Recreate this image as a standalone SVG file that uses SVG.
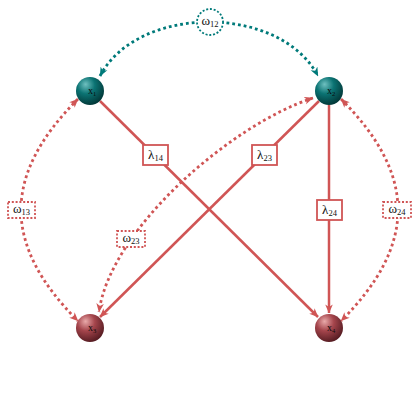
<svg xmlns="http://www.w3.org/2000/svg" width="420" height="420" viewBox="0 0 420 420">
<defs>
<radialGradient id="gTeal" cx="0.38" cy="0.32" r="0.7" fx="0.34" fy="0.26">
<stop offset="0" stop-color="#6fc0c0"/>
<stop offset="0.45" stop-color="#0b7373"/>
<stop offset="1" stop-color="#023838"/>
</radialGradient>
<radialGradient id="gRed" cx="0.38" cy="0.32" r="0.7" fx="0.34" fy="0.26">
<stop offset="0" stop-color="#e9aaaa"/>
<stop offset="0.45" stop-color="#a5454c"/>
<stop offset="1" stop-color="#561c22"/>
</radialGradient>
<marker id="aR" viewBox="0 0 10 10" refX="9.5" refY="5" markerWidth="9" markerHeight="9" markerUnits="userSpaceOnUse" orient="auto-start-reverse">
<path d="M0,0.8 L10,5 L0,9.2 L2.8,5 z" fill="#d05555"/>
</marker>
<marker id="aT" viewBox="0 0 10 10" refX="9.5" refY="5" markerWidth="9" markerHeight="9" markerUnits="userSpaceOnUse" orient="auto-start-reverse">
<path d="M0,0.8 L10,5 L0,9.2 L2.8,5 z" fill="#007a7a"/>
</marker>
</defs>
<style>
.solid{fill:none;stroke:#d05555;stroke-width:2.5}
.dotR{fill:none;stroke:#d05555;stroke-width:2.8;stroke-dasharray:2.8 3}
.dotT{fill:none;stroke:#007a7a;stroke-width:2.8;stroke-dasharray:2.8 3}
.lbox{fill:#fff;stroke:#d05555;stroke-width:1.8}
.wbox{fill:#fff;stroke:#d05555;stroke-width:1.8;stroke-dasharray:2 1.8}
.wcirc{fill:#fff;stroke:#007a7a;stroke-width:1.8;stroke-dasharray:2 1.8}
.lab{font-family:"Liberation Serif","DejaVu Serif",serif;font-size:13px;fill:#111;text-anchor:middle}
.sub{font-size:8.5px}
.nlab{font-family:"Liberation Serif","DejaVu Serif",serif;font-size:10px;fill:#0a0a0a;text-anchor:middle}
.nsub{font-size:6.5px}
</style>
<g id="connectors">
<path class="dotT" d="M100,76 C138,4 280,4 318,76" marker-start="url(#aT)" marker-end="url(#aT)"/>
<path class="dotR" d="M78,99 C2,175 2,245 78,321" marker-start="url(#aR)" marker-end="url(#aR)"/>
<path class="dotR" d="M341,99 C417,175 417,245 341,321" marker-start="url(#aR)" marker-end="url(#aR)"/>
<path class="dotR" d="M313,98 C230,125 110,230 99,312" marker-start="url(#aR)" marker-end="url(#aR)"/>
<path class="solid" d="M100,101 L318,317" marker-end="url(#aR)"/>
<path class="solid" d="M319,101 L100,317" marker-end="url(#aR)"/>
<path class="solid" d="M329,105 L329,313" marker-end="url(#aR)"/>
<g id="label-w12">
<circle class="wcirc" cx="210" cy="22" r="13"/>
<text class="lab" x="210" y="25">ω<tspan class="sub" dy="2">12</tspan></text>
</g>
<g id="label-w13">
<rect class="wbox" x="8" y="202" width="27" height="16"/>
<text class="lab" x="21.5" y="213">ω<tspan class="sub" dy="2">13</tspan></text>
</g>
<g id="label-w23">
<rect class="wbox" x="117" y="231" width="28" height="16"/>
<text class="lab" x="131" y="242">ω<tspan class="sub" dy="2">23</tspan></text>
</g>
<g id="label-w24">
<rect class="wbox" x="383" y="202" width="28" height="16"/>
<text class="lab" x="397" y="213">ω<tspan class="sub" dy="2">24</tspan></text>
</g>
<g id="label-l14">
<rect class="lbox" x="143" y="145" width="25" height="20"/>
<text class="lab" x="155.5" y="159">λ<tspan class="sub" dy="2">14</tspan></text>
</g>
<g id="label-l23">
<rect class="lbox" x="252" y="145" width="25" height="20"/>
<text class="lab" x="264.5" y="159">λ<tspan class="sub" dy="2">23</tspan></text>
</g>
<g id="label-l24">
<rect class="lbox" x="317" y="200" width="25" height="20"/>
<text class="lab" x="329.5" y="214">λ<tspan class="sub" dy="2">24</tspan></text>
</g>
</g>
<g id="node-x1">
<circle cx="90" cy="91" r="14" fill="url(#gTeal)"/>
<text class="nlab" x="92" y="94">x<tspan class="nsub" dy="1.5">1</tspan></text>
</g>
<g id="node-x2">
<circle cx="329" cy="91" r="14" fill="url(#gTeal)"/>
<text class="nlab" x="331" y="94">x<tspan class="nsub" dy="1.5">2</tspan></text>
</g>
<g id="node-x3">
<circle cx="90" cy="328" r="14" fill="url(#gRed)"/>
<text class="nlab" x="92" y="331">x<tspan class="nsub" dy="1.5">3</tspan></text>
</g>
<g id="node-x4">
<circle cx="329" cy="328" r="14" fill="url(#gRed)"/>
<text class="nlab" x="331" y="331">x<tspan class="nsub" dy="1.5">4</tspan></text>
</g>
</svg>
